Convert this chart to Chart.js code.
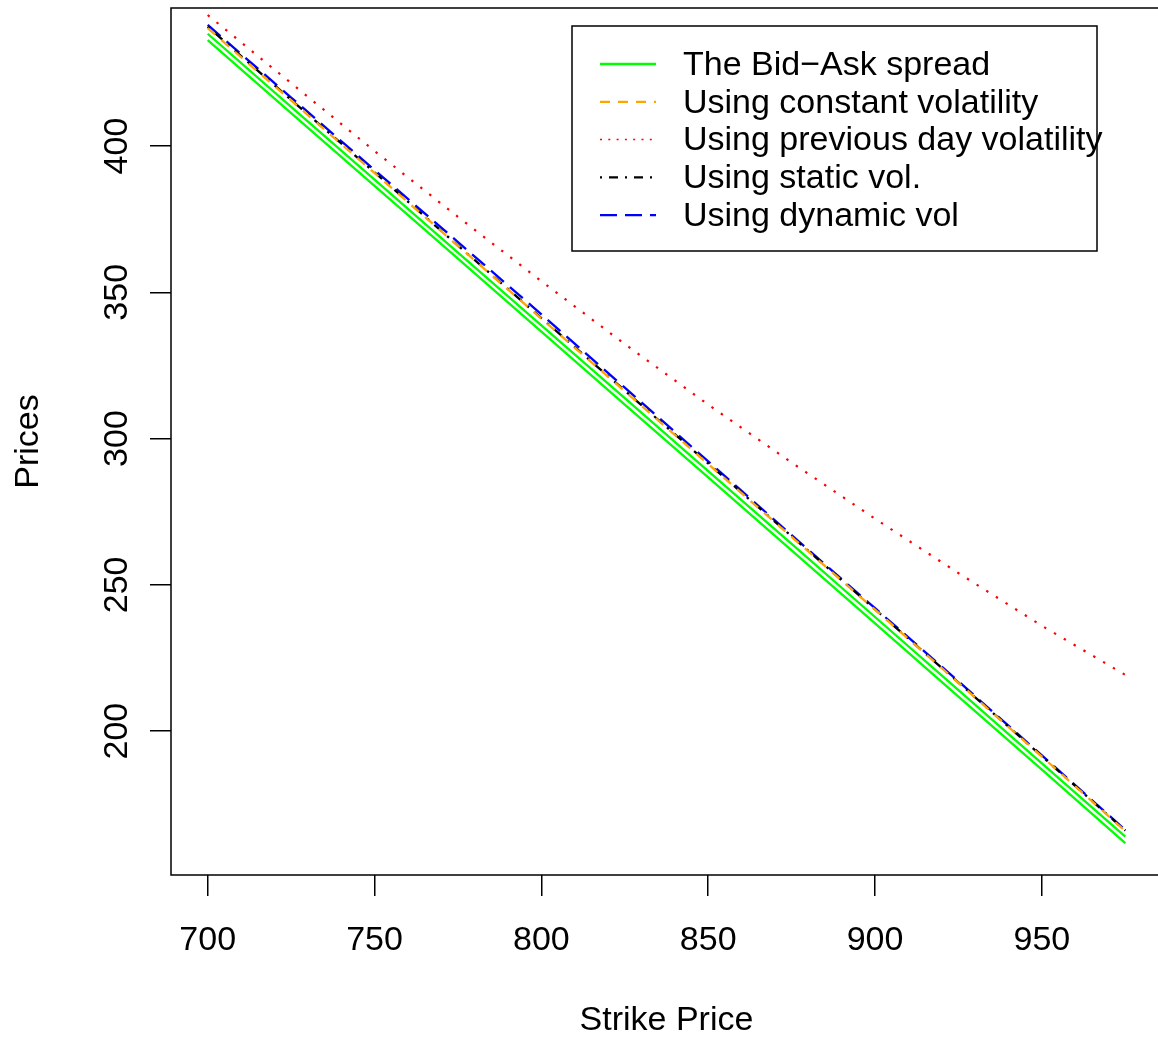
<!DOCTYPE html>
<html>
<head>
<meta charset="utf-8">
<script src="https://cdn.jsdelivr.net/npm/chart.js@4/dist/chart.umd.min.js"></script>
<style>
  html, body { margin: 0; padding: 0; background: #fff; overflow: hidden; }
  #wrap { width: 1170px; height: 1039px; }
</style>
</head>
<body>
<div id="wrap"><canvas id="chart" width="1170" height="1039"></canvas></div>
<script>
// ================= DATA =================
const strikes = [700, 725, 750, 775, 800, 825, 850, 875, 900, 925, 950, 975];

const bidPrices = [436.2, 411.3, 386.4, 361.5, 336.6, 311.6, 286.7, 261.8, 236.8, 211.8, 186.8, 161.7];
const askPrices = [438.4, 413.4, 388.5, 363.6, 338.7, 313.8, 288.9, 264.0, 239.0, 214.0, 189.0, 163.9];
const constVol  = [440.3, 415.6, 390.8, 365.9, 341.0, 316.2, 291.3, 266.4, 241.5, 216.5, 191.3, 165.8];
const prevDayVol = [444.8, 421.5, 398.3, 375.8, 353.8, 332.3, 311.6, 291.8, 272.6, 254.0, 236.0, 219.2];
const staticVol = [440.8, 415.8, 391.0, 366.0, 341.2, 316.4, 291.5, 266.6, 241.6, 216.6, 191.4, 166.0];
const dynamicVol = [441.4, 416.6, 391.8, 367.2, 342.5, 317.4, 292.2, 267.0, 242.0, 217.0, 191.7, 166.2];

const xTicks = [700, 750, 800, 850, 900, 950];
const yTicks = [200, 250, 300, 350, 400];

const FONT = '"Liberation Sans", Arial, Helvetica, sans-serif';
const FSIZE = 34;

function pts(ys) {
  return strikes.map((k, i) => ({ x: k, y: ys[i] }));
}

// ================= PLUGINS =================
// box round the plot, rotated y labels (R style), legend box, x title
const rPlot = {
  id: "rPlot",
  afterDraw(chart) {
    const ctx = chart.ctx;
    const a = chart.chartArea;
    ctx.save();
    ctx.strokeStyle = "#000";
    ctx.lineWidth = 1.5;
    ctx.setLineDash([]);
    ctx.strokeRect(a.left, a.top, a.right - a.left, a.bottom - a.top);

    // y tick labels, read bottom to top
    const ys = chart.scales.y;
    ctx.fillStyle = "#000";
    ctx.font = FSIZE + "px " + FONT;
    ctx.textAlign = "center";
    ctx.textBaseline = "middle";
    ys.ticks.forEach((t) => {
      const py = ys.getPixelForValue(t.value);
      ctx.save();
      ctx.translate(118, py);
      ctx.rotate(-Math.PI / 2);
      ctx.fillText(String(t.value), 0, 0);
      ctx.restore();
    });

    // x axis title
    ctx.fillText("Strike Price", (a.left + a.right) / 2, 1021);

    // legend
    const lx = 572, ly = 26, lw = 525, lh = 225;
    ctx.fillStyle = "#fff";
    ctx.fillRect(lx, ly, lw, lh);
    ctx.strokeStyle = "#000";
    ctx.lineWidth = 1.5;
    ctx.strokeRect(lx, ly, lw, lh);

    const items = chart.data.datasets.filter((d) => !d.noLegend);
    items.forEach((d, i) => {
      const cy = 64 + i * 37.8;
      ctx.beginPath();
      ctx.strokeStyle = d.borderColor;
      ctx.lineWidth = d.legendWidth || d.borderWidth;
      ctx.setLineDash(d.legendDash || d.borderDash || []);
      ctx.moveTo(600, cy);
      ctx.lineTo(656, cy);
      ctx.stroke();
      ctx.setLineDash([]);
      ctx.fillStyle = "#000";
      ctx.textAlign = "left";
      ctx.textBaseline = "middle";
      ctx.fillText(d.label, 683, cy + 1.5);
    });
    ctx.restore();
  },
};

// ================= CHART =================
const ctx = document.getElementById("chart");

new Chart(ctx, {
  type: "line",
  data: {
    datasets: [
      {
        label: "The Bid\u2212Ask spread",
        data: pts(bidPrices),
        borderColor: "#00ff00",
        borderWidth: 2.3,
      },
      {
        label: "Ask",
        data: pts(askPrices),
        borderColor: "#00ff00",
        borderWidth: 2.3,
        noLegend: true,
      },
      {
        label: "Using constant volatility",
        data: pts(constVol),
        borderColor: "#ffa500",
        borderWidth: 2.3,
        borderDash: [10, 8],
        legendDash: [10, 8],
      },
      {
        label: "Using previous day volatility",
        data: pts(prevDayVol),
        borderColor: "#ff0000",
        borderWidth: 2.2,
        borderDash: [2.4, 9],
        legendDash: [2, 6.3],
        legendWidth: 1.5,
      },
      {
        label: "Using static vol.",
        data: pts(staticVol),
        borderColor: "#000000",
        borderWidth: 2.3,
        borderDash: [2.5, 7, 10, 7],
        legendDash: [2, 7, 9, 7],
      },
      {
        label: "Using dynamic vol",
        data: pts(dynamicVol),
        borderColor: "#0000ff",
        borderWidth: 2.3,
        borderDash: [17, 8],
        legendDash: [17, 8],
      },
    ],
  },
  options: {
    responsive: false,
    devicePixelRatio: 1,
    animation: false,
    layout: { padding: { top: 8, right: 8, left: 0, bottom: 0 } },
    elements: {
      point: { radius: 0 },
      line: { tension: 0, borderCapStyle: "butt", fill: false },
    },
    plugins: {
      legend: { display: false },
      tooltip: { enabled: false },
    },
    scales: {
      x: {
        type: "linear",
        min: 689,
        max: 986,
        afterBuildTicks: (s) => { s.ticks = xTicks.map((v) => ({ value: v })); },
        afterFit: (s) => { s.height = 164; },
        border: { display: false },
        grid: {
          drawOnChartArea: false,
          drawTicks: true,
          tickLength: 21,
          color: "#000",
          lineWidth: 1.5,
        },
        ticks: {
          color: "#000",
          font: { family: FONT, size: FSIZE },
          padding: 24,
          maxRotation: 0,
          autoSkip: false,
        },
      },
      y: {
        type: "linear",
        min: 150.8,
        max: 447.2,
        afterBuildTicks: (s) => { s.ticks = yTicks.map((v) => ({ value: v })); },
        afterFit: (s) => { s.width = 171; },
        border: { display: false },
        grid: {
          drawOnChartArea: false,
          drawTicks: true,
          tickLength: 21,
          color: "#000",
          lineWidth: 1.5,
        },
        ticks: {
          display: false,
          autoSkip: false,
        },
        title: {
          display: true,
          text: "Prices",
          color: "#000",
          font: { family: FONT, size: FSIZE },
          padding: { top: 8.5, bottom: 0 },
        },
      },
    },
  },
  plugins: [rPlot],
});
</script>
</body>
</html>
